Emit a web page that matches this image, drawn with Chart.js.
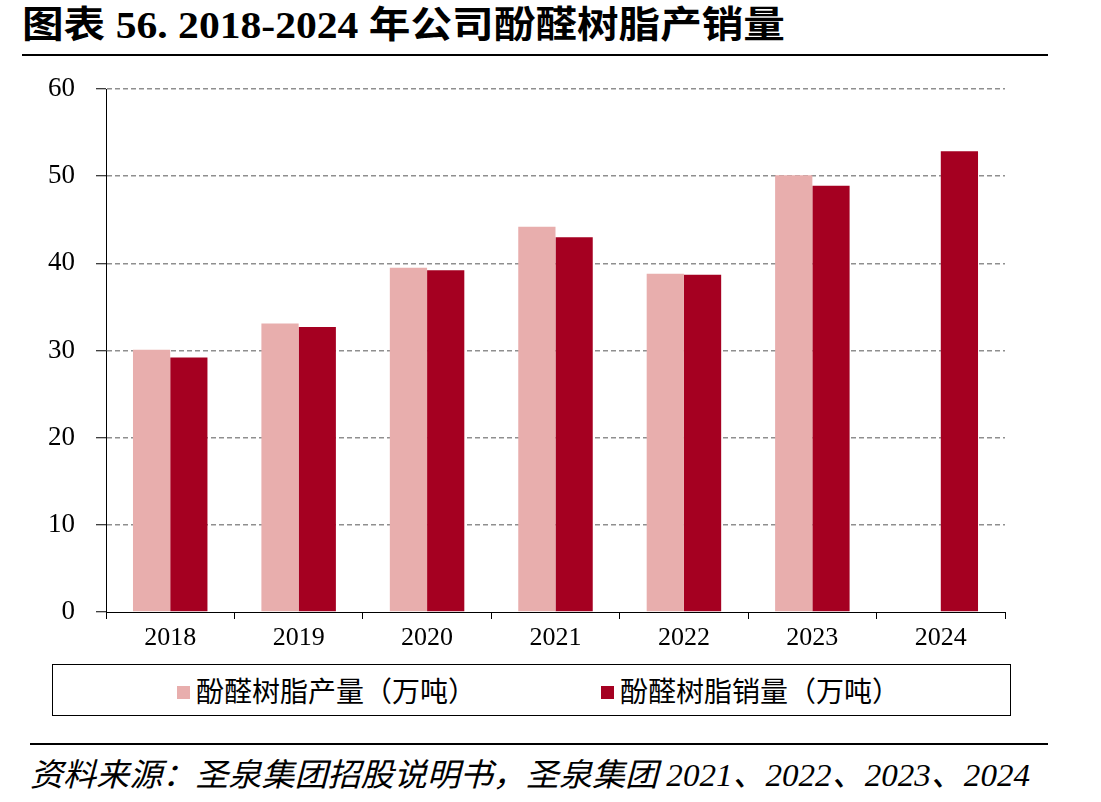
<!DOCTYPE html>
<html>
<head>
<meta charset="utf-8">
<script src="https://cdn.jsdelivr.net/npm/chart.js@4"></script>
<style>
  html, body { margin: 0; padding: 0; background: #fff; width: 1101px; height: 802px; overflow: hidden; }
  body { position: relative; font-family: "Liberation Serif", "Noto Sans CJK SC", serif; }
  #title { position: absolute; left: 22px; top: 2px; font-size: 37px; font-weight: bold; color: #000; white-space: nowrap; transform-origin: 0 0; line-height: 48px; }
  #titleLine { position: absolute; left: 22px; top: 54px; width: 1026px; height: 2px; background: #000; }
  #wrap { position: absolute; left: 0; top: 0; width: 1101px; height: 660px; }
  #legend { position: absolute; left: 52px; top: 664px; width: 959px; height: 52px; border: 1px solid #000; box-sizing: border-box; }
  .item { position: absolute; top: 9px; font-size: 28px; font-family: "Noto Sans CJK SC", sans-serif; white-space: nowrap; line-height: 32px; color: #000; }
  .sw { display: inline-block; width: 13px; height: 13px; margin-right: 6px; vertical-align: 3px; }
  #footLine { position: absolute; left: 30px; top: 743px; width: 1018px; height: 2px; background: #000; }
  #foot { position: absolute; left: 30px; top: 752px; font-size: 32px; font-style: italic; color: #000; white-space: nowrap; line-height: 47px; transform-origin: 0 0; font-family: "Liberation Serif", "Noto Sans CJK SC", serif; }
</style>
</head>
<body>
<div id="title">图表 56. 2018-2024 年公司酚醛树脂产销量</div>
<div id="titleLine"></div>
<div id="wrap"><canvas id="chart"></canvas></div>
<div id="legend"></div>
<div id="footLine"></div>
<div id="foot"><span id="foot1">资料来源：圣泉集团招股说明书，圣泉集团 2021、2022、2023、2024</span><br>年年度报告，招商证券</div>
<script>
const years = ["2018", "2019", "2020", "2021", "2022", "2023", "2024"];
const production = [30.1, 33.1, 39.5, 44.2, 38.8, 50.1, null];
const sales = [29.2, 32.7, 39.2, 43.0, 38.7, 48.9, 52.85];
const seriesNames = ["酚醛树脂产量（万吨）", "酚醛树脂销量（万吨）"];
const seriesColors = ["#E8AEAD", "#A50021"];
const yTicks = [0, 10, 20, 30, 40, 50, 60];

const serif = "'Liberation Serif', 'Times New Roman', serif";

new Chart(document.getElementById("chart"), {
  type: "bar",
  data: {
    labels: years,
    datasets: [
      { label: seriesNames[0], data: production, backgroundColor: seriesColors[0] },
      { label: seriesNames[1], data: sales, backgroundColor: seriesColors[1] }
    ]
  },
  options: {
    responsive: true,
    maintainAspectRatio: false,
    animation: false,
    layout: { padding: { top: 89, left: 0, right: 96, bottom: 0 } },
    categoryPercentage: 0.58,
    barPercentage: 1.0,
    plugins: {
      legend: { display: false },
      tooltip: { enabled: false }
    },
    scales: {
      x: {
        offset: true,
        grid: { offset: true, drawOnChartArea: false, drawTicks: true, tickLength: 7, color: "#000", tickColor: "#000" },
        border: { display: true, color: "#000", width: 1 },
        ticks: { color: "#000", font: { family: serif, size: 26 }, padding: 4, maxRotation: 0 },
        afterFit: (s) => { s.height = 48; }
      },
      y: {
        min: 0,
        max: 60,
        afterBuildTicks: (s) => { s.ticks = yTicks.map(v => ({ value: v })); },
        grid: {
          color: (c) => c.tick && c.tick.value === 0 ? "rgba(0,0,0,0)" : "#8f8f8f",
          lineWidth: 1.5, tickColor: "#000", tickLength: 10, tickBorderDash: [], tickWidth: 1
        },
        border: { display: true, color: "#000", width: 1, dash: [5, 3] },
        ticks: { color: "#000", font: { family: serif, size: 27 }, padding: 21 },
        afterFit: (s) => { s.width = 106; }
      }
    }
  }
});

const legend = document.getElementById("legend");
const legendLeft = [124, 548];
seriesNames.forEach((n, i) => {
  const d = document.createElement("div");
  d.className = "item";
  d.style.left = legendLeft[i] + "px";
  d.innerHTML = '<span class="sw" style="background:' + seriesColors[i] + '"></span>' + n;
  legend.appendChild(d);
});

// stretch title and source note to the widths they have in the picture
function fitWidth(el, measure, target) {
  const w = measure.getBoundingClientRect().width;
  el.style.transform = "scaleX(" + (target / w) + ")";
}
const t = document.getElementById("title");
fitWidth(t, t, 763);
fitWidth(document.getElementById("foot"), document.getElementById("foot1"), 1000);
</script>
</body>
</html>
